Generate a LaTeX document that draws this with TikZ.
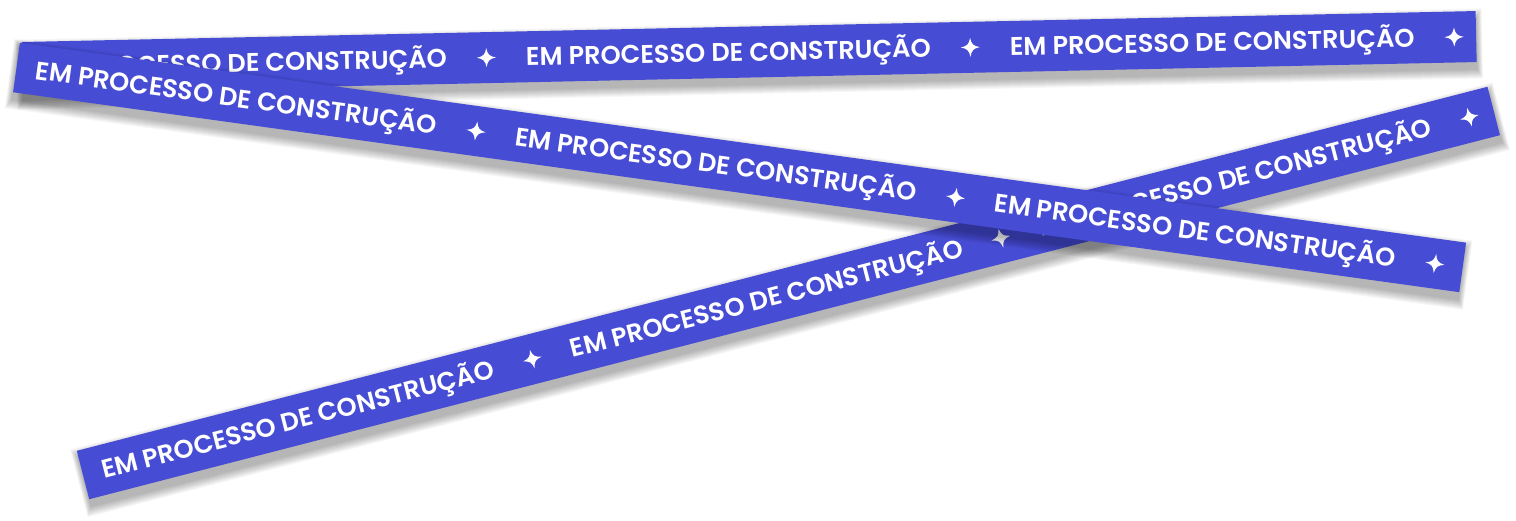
\documentclass[tikz,border=0pt]{standalone}
\usepackage{fontspec}
\newfontfamily\tapefont{Poppins}[UprightFont=* SemiBold]
\definecolor{tapeblue}{HTML}{474CD4}
\newcommand{\tapeshadow}[1]{\foreach \i in {1,...,10}{\fill[black, opacity=0.03] (-\i*0.6,-18-\i) rectangle (#1+\i*0.6,32+\i);}}
\tikzset{
  tape/.style={fill=tapeblue},
  tapetext/.style={anchor=base, text=white, inner sep=0pt, font=\tapefont\fontsize{12.8}{16}\selectfont},
  sparkle/.pic={\fill[white] (0,-9.5) .. controls (1.3,-3) and (3,-1.3) .. (9.5,0) .. controls (3,1.3) and (1.3,3) .. (0,9.5) .. controls (-1.3,3) and (-3,1.3) .. (-9.5,0) .. controls (-3,-1.3) and (-1.3,-3) .. cycle;}
}
\begin{document}
\begin{tikzpicture}[x=0.5pt, y=-0.5pt]
  \fill[white] (0,0) rectangle (1516,520);
  \useasboundingbox (0,0) rectangle (1516,520);
  \begin{scope}[shift={(22.5,67.5)}, rotate=1.22, transform shape]
    \tapeshadow{1454}
    \fill[tape] (0,-25.5) rectangle (1454,25.5);
    \node[tapetext] (top1) at (222,9) {EM PROCESSO DE CONSTRUÇÃO};
    \pic (topstar1) at (464,0) {sparkle};
    \node[tapetext] (top2) at (706,9) {EM PROCESSO DE CONSTRUÇÃO};
    \pic (topstar2) at (948,0) {sparkle};
    \node[tapetext] (top3) at (1190,9) {EM PROCESSO DE CONSTRUÇÃO};
    \pic (topstar3) at (1432,0) {sparkle};
  \end{scope}
  \begin{scope}[shift={(83,475)}, rotate=14.47, transform shape]
    \tapeshadow{1457}
    \fill[tape] (0,-25) rectangle (1457,25);
    \node[tapetext] (up1) at (222,9) {EM PROCESSO DE CONSTRUÇÃO};
    \pic (upstar1) at (464,0) {sparkle};
    \node[tapetext] (up2) at (706,9) {EM PROCESSO DE CONSTRUÇÃO};
    \pic (upstar2) at (948,0) {sparkle};
    \node[tapetext] (up3) at (1190,9) {EM PROCESSO DE CONSTRUÇÃO};
    \pic (upstar3) at (1432,0) {sparkle};
  \end{scope}
  \begin{scope}[shift={(16.5,67.5)}, rotate=-7.87, transform shape]
    \tapeshadow{1460}
    \fill[tape] (0,-25) rectangle (1460,25);
    \node[tapetext] (down1) at (222,9) {EM PROCESSO DE CONSTRUÇÃO};
    \pic (downstar1) at (464,0) {sparkle};
    \node[tapetext] (down2) at (706,9) {EM PROCESSO DE CONSTRUÇÃO};
    \pic (downstar2) at (948,0) {sparkle};
    \node[tapetext] (down3) at (1190,9) {EM PROCESSO DE CONSTRUÇÃO};
    \pic (downstar3) at (1432,0) {sparkle};
  \end{scope}
\end{tikzpicture}
\end{document}
